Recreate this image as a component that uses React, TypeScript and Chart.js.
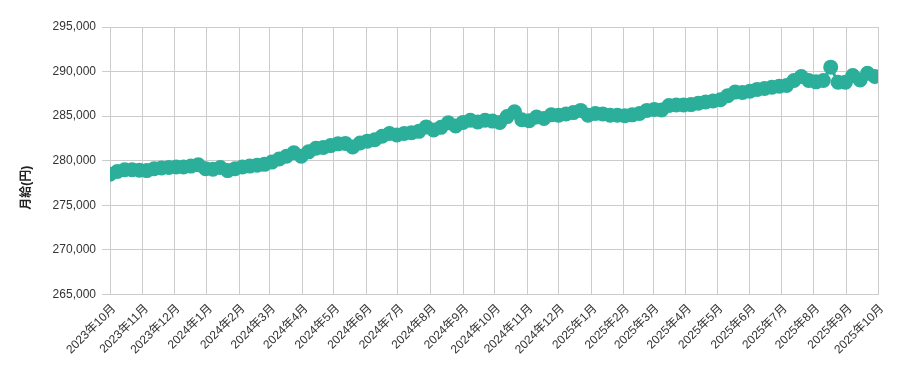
import React, { useEffect, useRef } from "react";
import { Chart, registerables } from "chart.js";

Chart.register(...registerables);

// Weekly observations starting 2023-10-01 (one value per week)
const startDate = "2023-10-01";
const weeklySalary: number[] = [
  278500, 278800, 279000, 279000, 278950, 278900, 279100, 279200, 279250, 279300,
  279300, 279400, 279550, 279100, 279050, 279250, 278900, 279100, 279300, 279400,
  279500, 279600, 279850, 280200, 280500, 280900, 280500, 281000, 281400, 281500,
  281700, 281900, 281950, 281550, 282000, 282200, 282350, 282750, 283050, 282900,
  283050, 283150, 283300, 283800, 283450, 283750, 284250, 283900, 284300, 284550,
  284350, 284550, 284450, 284300, 284950, 285500, 284600, 284500, 284900, 284750,
  285150, 285100, 285250, 285400, 285650, 285100, 285300, 285250, 285100, 285100,
  285050, 285150, 285300, 285650, 285750, 285700, 286200, 286250, 286250, 286300,
  286450, 286600, 286700, 286850, 287300, 287700, 287650, 287800, 288000, 288100,
  288250, 288350, 288450, 289000, 289450, 289000, 288850, 289000, 290500, 288800,
  288800, 289550, 289050, 289800, 289450,
];

const monthLabels: string[] = [
  "2023年10月", "2023年11月", "2023年12月", "2024年1月", "2024年2月", "2024年3月",
  "2024年4月", "2024年5月", "2024年6月", "2024年7月", "2024年8月", "2024年9月",
  "2024年10月", "2024年11月", "2024年12月", "2025年1月", "2025年2月", "2025年3月",
  "2025年4月", "2025年5月", "2025年6月", "2025年7月", "2025年8月", "2025年9月",
  "2025年10月",
];

const yTicks: number[] = [265000, 270000, 275000, 280000, 285000, 290000, 295000];
const yTitle = "月給(円)";

const DAY = 86400000;
const startMs = Date.parse(startDate + "T00:00:00Z");
const monthOffsets = monthLabels.map((lab) => {
  const m = lab.match(/(\d+)年(\d+)月/)!;
  return Math.round((Date.UTC(+m[1], +m[2] - 1, 1) - startMs) / DAY);
});

const FONT = "Arial, 'Liberation Sans', 'Noto Sans CJK JP', sans-serif";
const COLOR = "#2BAF9A";

// Draws the y-axis title (rotated) slightly below the plot's vertical centre, as in the reference
const yTitlePlugin = {
  id: "yTitleLow",
  afterDraw(chart: any) {
    const { ctx, chartArea } = chart;
    const yScale = chart.scales.y;
    ctx.save();
    ctx.font = `bold 12px ${FONT}`;
    ctx.fillStyle = "#222";
    ctx.textAlign = "center";
    ctx.textBaseline = "middle";
    ctx.translate(yScale.left + 11, (chartArea.top + chartArea.bottom) / 2 + 27);
    ctx.rotate(-Math.PI / 2);
    ctx.fillText(yTitle, 0, 0);
    ctx.restore();
  },
};

export default function App() {
  const ref = useRef<HTMLCanvasElement | null>(null);
  useEffect(() => {
    if (!ref.current) return;
    const points = weeklySalary.map((v, i) => ({ x: i * 7, y: v }));
    const chart = new Chart(ref.current, {
      type: "line",
      data: {
        datasets: [
          {
            data: points,
            borderColor: COLOR,
            backgroundColor: COLOR,
            pointBackgroundColor: COLOR,
            pointBorderColor: COLOR,
            pointRadius: 6,
            pointHoverRadius: 6,
            borderWidth: 3,
            tension: 0,
            fill: false,
          },
        ],
      },
      options: {
        animation: false,
        responsive: true,
        maintainAspectRatio: false,
        layout: { padding: { left: 8, right: 19, top: 19, bottom: 0 } },
        plugins: { legend: { display: false }, tooltip: { enabled: false } },
        scales: {
          x: {
            type: "linear",
            min: monthOffsets[0],
            max: monthOffsets[monthOffsets.length - 1],
            afterBuildTicks: (scale: any) => {
              scale.ticks = monthOffsets.map((v) => ({ value: v }));
            },
            ticks: {
              autoSkip: false,
              maxRotation: 45,
              minRotation: 45,
              labelOffset: 4,
              padding: 7,
              color: "#333",
              font: { family: FONT, size: 12 },
              callback: (value: any) => {
                const idx = monthOffsets.indexOf(Number(value));
                return idx >= 0 ? monthLabels[idx] : "";
              },
            },
            grid: { color: "#cccccc", drawTicks: false },
            border: { color: "#cccccc" },
          },
          y: {
            min: yTicks[0],
            max: yTicks[yTicks.length - 1],
            afterBuildTicks: (scale: any) => {
              scale.ticks = yTicks.map((v) => ({ value: v }));
            },
            afterFit: (scale: any) => {
              scale.width = 94;
            },
            ticks: {
              color: "#333",
              padding: 6,
              font: { family: FONT, size: 12 },
              callback: (value: any) => Number(value).toLocaleString("en-US"),
            },
            grid: { color: "#cccccc" },
            border: { color: "#cccccc" },
            title: { display: false },
          },
        },
      },
      plugins: [yTitlePlugin],
    });
    return () => chart.destroy();
  }, []);
  return (
    <div style={{ position: "relative", height: "356px" }}>
      <canvas ref={ref} />
    </div>
  );
}
